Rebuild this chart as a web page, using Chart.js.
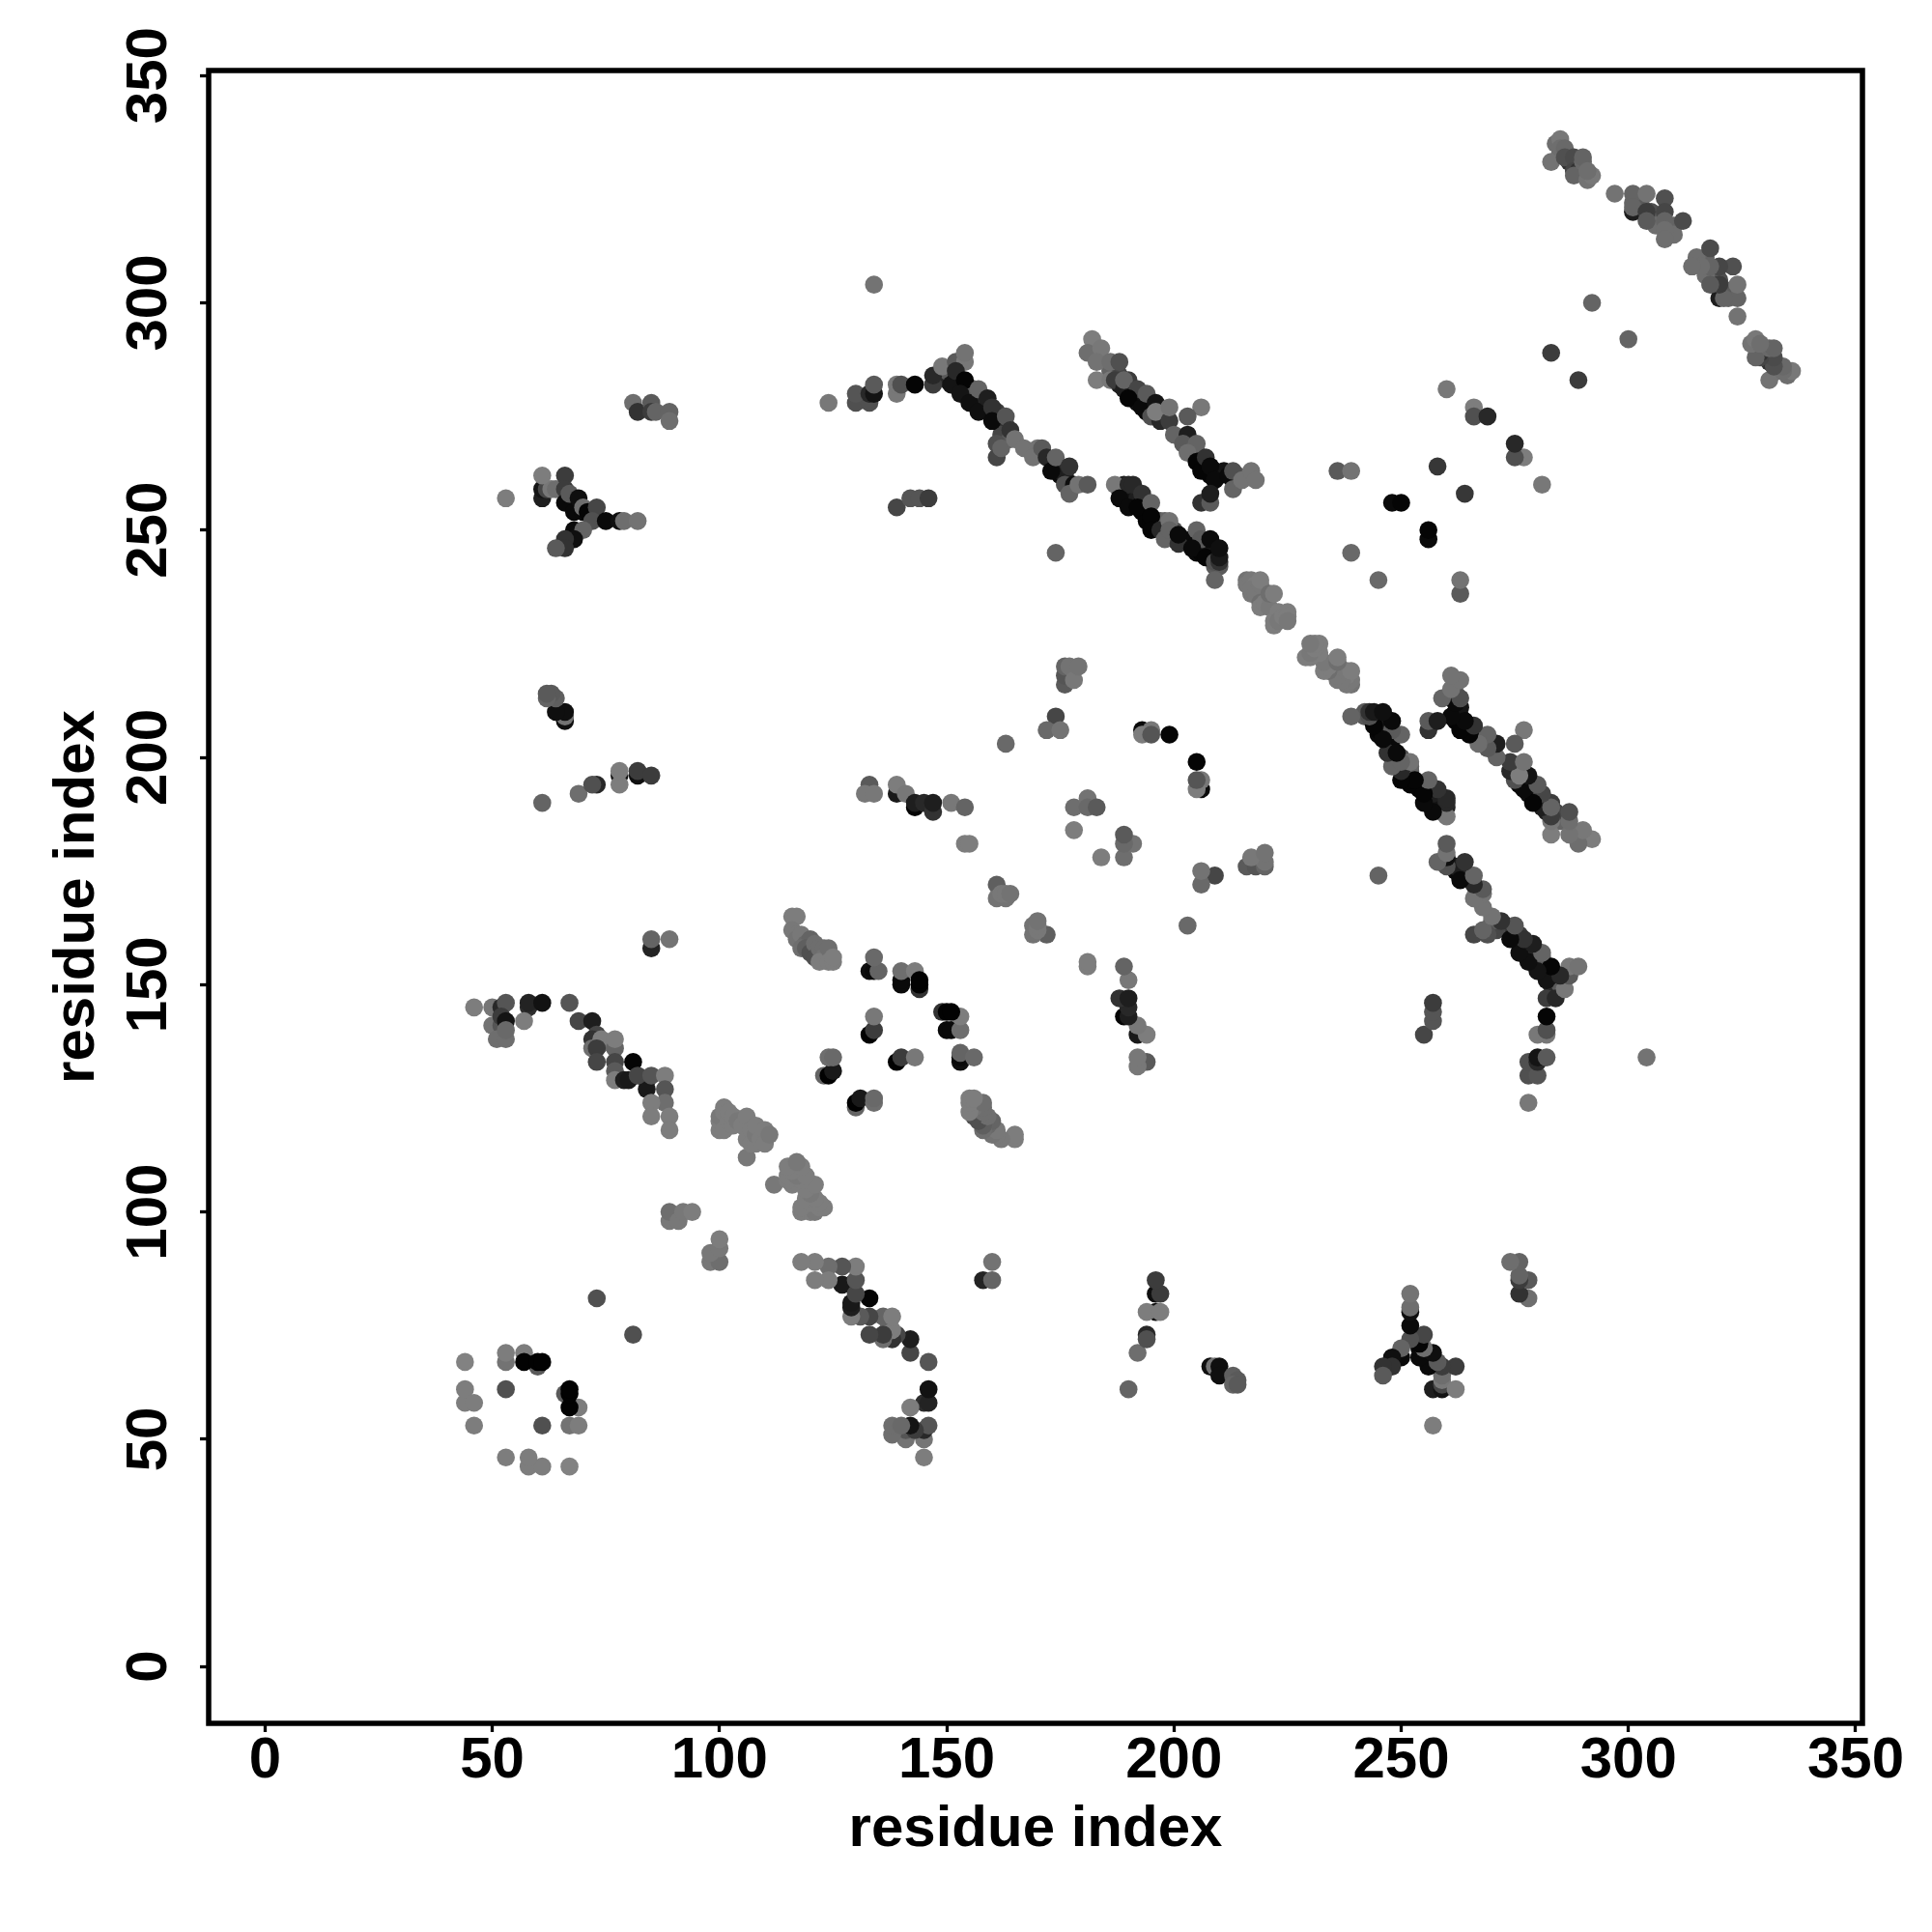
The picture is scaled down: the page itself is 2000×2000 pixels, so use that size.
<!DOCTYPE html>
<html>
<head>
<meta charset="utf-8">
<title>contact map</title>
<script src="https://cdn.jsdelivr.net/npm/chart.js@4"></script>
<style>
  body { margin: 0; background: #fff; }
  canvas { display: block; }
</style>
</head>
<body>
<canvas id="chart" width="2000" height="2000"></canvas>
<script>
// each contact is [residue i, residue j, grey level]
// the map is symmetric, so every pair is drawn at (i,j) and (j,i)
var tickValues = [0, 50, 100, 150, 200, 250, 300, 350];

var ringLow = [[44,58,125],[44,61,125],[44,67,130],[46,53,125],[46,58,125],[53,61,80],[53,67,115],[53,69,125],[57,69,125],[60,66,90],[57,67,2],[60,67,2],[61,67,2],[73,81,80]];
var strandA = [[46,145,125],[50,145,118],[52,145,40],[53,146,85],[58,145,45],[58,146,35],[61,146,18],[67,146,85],[50,141,115],[52,141,85],[52,143,60],[53,142,20],[57,142,125],[51,138,110],[53,138,110],[53,140,105],[69,142,70],[72,142,30],[73,139,70],[72,138,50],[74,137,110],[74,138,125],[72,136,110],[73,136,60],[73,133,70],[77,136,100],[77,138,125],[77,133,70],[77,131,90],[77,129,125],[79,129,30],[80,129,25],[81,133,5],[84,129,5],[84,127,25],[82,130,70],[85,130,85],[88,130,125],[88,127,85],[88,124,110],[85,124,125],[85,121,125],[89,121,125],[89,118,125]];
var patchB = [[89,98,120],[89,100,110],[91,98,120],[92,100,120],[94,100,125]];
var patchC = [[100,118,125],[100,120,125],[100,121,120],[101,118,125],[101,122,125],[101,123,125],[102,120,125],[102,122,125],[103,119,125],[103,121,125],[104,120,120],[105,119,125],[106,112,120],[106,116,125],[106,121,125],[107,118,125],[107,115,125],[108,115,125],[108,117,120],[108,119,125],[109,116,125],[110,118,125],[110,115,125],[111,117,120]];
var patchD = [[116,165,125],[117,165,125],[116,162,120],[117,161,120],[117,160,115],[118,161,120],[119,159,105],[120,160,100],[118,158,110],[119,158,95],[120,157,80],[121,159,110],[121,156,80],[122,158,110],[123,158,110],[123,156,115],[122,155,125],[124,158,110],[124,155,125],[125,155,125],[125,156,125]];
var smallE = [[123,130,100],[124,130,2],[125,131,25],[124,134,110],[125,134,105],[133,139,2],[134,140,60],[134,143,120],[133,153,15],[134,153,10],[135,153,100],[134,156,105],[140,150,10],[140,151,10],[140,153,110],[143,153,125],[144,149,50],[144,150,2],[144,151,2],[85,158,35],[85,160,100],[89,160,115]];
var strandF = [[133,194,90],[132,192,120],[134,192,120],[139,192,25],[139,194,125],[141,192,120],[143,189,5],[143,190,30],[145,190,40],[147,188,50],[147,190,30],[151,190,120],[154,189,100]];
var patchG = [[154,181,125],[155,181,125],[161,172,95],[161,169,115],[163,169,115],[162,170,120],[163,170,120],[164,170,115]];
var patchH = [[176,216,90],[176,218,85],[176,220,100],[177,220,115],[178,217,120],[179,220,115],[174,209,70],[172,206,105],[175,206,115],[163,203,105],[193,206,10],[195,206,120],[193,205,125],[195,205,85],[199,205,5],[178,189,110],[181,191,115],[181,189,105],[183,189,90],[178,184,125]];
var strandI = [[61,190,100],[69,192,110],[73,194,40],[72,194,80],[78,196,15],[78,194,125],[78,197,125],[82,196,15],[82,197,60],[85,196,60],[66,208,15],[66,209,115],[66,210,15],[64,210,15],[64,213,95],[63,214,90],[62,213,100],[62,214,90]];
var forkJ = [[53,257,125],[61,257,30],[61,259,20],[62,259,70],[63,259,120],[61,262,125],[64,259,110],[66,262,60],[66,259,60],[66,256,10],[67,258,90],[68,254,10],[69,257,15],[70,254,10],[70,255,110],[71,254,5],[73,255,70],[72,252,80],[68,250,10],[70,250,100],[68,248,15],[66,248,50],[66,246,50],[64,246,90],[75,252,10],[78,252,15],[79,252,110],[82,252,115]];
var patchK = [[81,278,110],[82,276,50],[85,278,90],[85,276,60],[86,276,100],[89,276,100],[89,274,110]];
var strandL = [[150,283,40],[150,285,90],[152,283,15],[153,282,20],[155,280,10],[156,279,15],[156,281,90],[157,278,30],[158,277,20],[158,279,40],[159,276,15],[160,275,30],[161,276,60],[162,274,20],[163,273,50],[163,271,60],[162,271,70],[164,270,90],[174,264,15],[175,262,10],[175,264,40],[176,262,30],[124,278,120],[130,278,80],[133,278,80],[130,280,85],[133,280,40],[134,280,20],[134,282,90],[139,280,120],[139,282,120],[140,282,80],[143,282,5],[147,282,60],[147,284,40],[149,286,120],[152,287,90],[154,287,120],[154,289,115],[151,282,20],[152,285,40],[154,283,5],[153,280,20],[155,278,15],[157,281,100],[157,276,15],[159,279,30],[160,277,50],[160,274,10],[163,275,85],[164,272,50],[161,269,80],[161,266,70],[162,268,100],[165,270,115],[167,268,115],[170,268,115],[169,266,115],[171,268,90],[172,266,40],[173,263,10],[174,266,100],[177,264,50],[176,260,80],[178,260,15],[177,258,100],[179,260,115],[181,260,90]];
var strandM = [[186,285,100],[188,284,70],[188,282,30],[190,281,25],[190,283,60],[191,280,15],[192,279,10],[192,278,15],[194,278,40],[194,276,5],[195,277,30],[196,275,10],[198,275,70],[204,268,90],[205,267,50],[206,265,30],[206,266,10],[207,263,5],[207,264,10],[208,262,5],[209,263,15],[210,262,5],[211,263,20],[213,261,60],[214,262,90],[182,292,125],[181,289,110],[184,290,120],[183,287,115],[186,287,110],[188,287,80],[183,283,125],[186,283,120],[187,283,60],[189,281,30],[189,283,100],[192,281,70],[190,279,5],[193,277,10],[194,280,90],[196,278,20],[195,275,80],[197,274,40],[196,276,125],[199,274,60],[199,277,115],[206,277,120],[203,275,90],[200,271,100],[203,271,30],[202,269,90],[205,269,100],[203,267,110],[205,265,5],[206,263,5],[207,266,50],[208,264,10],[209,261,10],[212,262,10],[213,259,100],[213,263,80],[215,261,115],[217,263,115],[218,261,115],[206,256,50],[208,256,90],[208,258,30],[139,255,70],[142,257,85],[144,257,85],[146,257,60]];
var strandN = [[188,259,10],[189,260,30],[189,258,10],[190,258,15],[191,257,10],[191,258,20],[192,257,30],[193,256,10],[193,254,5],[194,254,5],[194,252,5],[195,252,5],[196,252,5],[196,251,5],[198,250,90],[197,252,90],[198,252,100],[200,250,80],[200,248,60],[202,248,80],[204,248,10],[205,247,10],[205,245,10],[206,246,30],[206,245,5],[207,246,15],[208,246,20],[208,244,5],[209,245,25],[209,244,15],[209,242,90],[210,242,90],[187,260,120],[190,260,40],[191,260,40],[188,257,10],[193,258,50],[190,255,10],[192,255,5],[195,256,100],[195,253,5],[195,250,5],[197,250,40],[198,248,100],[199,252,115],[199,250,100],[201,247,50],[201,249,10],[205,250,100],[206,248,90],[204,246,10],[208,248,10],[207,244,5],[209,243,80],[210,243,50],[210,244,25],[210,246,15],[209,239,100],[174,245,100]];
var patchO = [[216,239,115],[216,238,120],[217,239,120],[218,238,125],[217,236,120],[217,237,120],[218,236,120],[219,238,120],[219,239,125],[219,234,110],[219,233,125],[220,234,125],[221,233,120],[221,236,110],[222,236,125],[222,230,125],[222,229,125],[223,232,125],[223,230,120],[224,231,125],[225,232,125],[225,231,125],[225,230,120]];
var loneP = [[236,263,90],[239,263,115],[239,245,105],[248,256,10],[250,256,5],[258,264,55],[260,281,120],[266,277,125],[266,275,80],[269,275,40],[283,289,60],[292,300,100],[134,304,115]];
var tailQ = [[287,332,70],[287,331,50],[288,331,60],[289,331,90],[289,330,60],[290,330,80],[284,335,110],[285,333,110],[286,333,90],[283,331,115],[285,336,120],[285,334,110],[286,334,105],[286,332,80],[288,332,75],[288,329,70],[290,329,70],[289,329,50],[288,328,100],[290,331,105],[290,332,100],[291,327,115],[292,328,120],[291,329,110]];
var tailR = [[301,322,100],[302,321,100],[303,320,80],[303,321,90],[305,320,80],[305,318,60],[306,319,80],[307,317,90],[307,319,90],[309,316,100],[309,315,110],[310,317,100],[310,315,110],[306,317,110],[297,324,115],[301,324,100],[304,324,115],[301,320,30],[301,321,100],[304,320,60],[304,318,90],[308,323,80],[308,320,70],[308,318,100],[312,318,75],[308,316,110],[308,314,110]];

var allContacts = [].concat(ringLow, strandA, patchB, patchC, patchD, smallE, strandF, patchG, patchH,
    strandI, forkJ, patchK, strandL, strandM, strandN, patchO, loneP, tailQ, tailR);

var points = [];
allContacts.forEach(function(c){
    points.push({x: c[0], y: c[1], grey: c[2]});
    points.push({x: c[1], y: c[0], grey: c[2]});
});

var axisFont = {family: '"Liberation Sans"', size: 60, weight: 'bold'};

// frame around the plot, the axis borders only give two sides
var framePlugin = {
    id: 'frame',
    afterDraw: function(chart){
        var a = chart.chartArea, ctx = chart.ctx;
        ctx.save();
        ctx.strokeStyle = '#000';
        ctx.lineWidth = 5.5;
        ctx.strokeRect(a.left, a.top, a.right - a.left, a.bottom - a.top);
        ctx.restore();
    }
};

function useTicks(scale){
    scale.ticks = tickValues.map(function(v){ return {value: v}; });
}

var context = document.getElementById('chart').getContext('2d');
var myChart = new Chart(context, {
    type: 'scatter',
    data: {
        datasets: [{
            data: points,
            pointRadius: 9.3,
            pointHoverRadius: 9.3,
            borderWidth: 0,
            backgroundColor: function(c){
                var g = c.raw ? c.raw.grey : 0;
                return 'rgb(' + g + ',' + g + ',' + g + ')';
            }
        }]
    },
    plugins: [framePlugin],
    options: {
        responsive: false,
        animation: false,
        layout: {padding: {top: 73, right: 72, left: 0, bottom: 0}},
        plugins: {legend: {display: false}, tooltip: {enabled: false}},
        scales: {
            x: {
                type: 'linear',
                min: -12.4,
                max: 351.5,
                afterBuildTicks: useTicks,
                afterFit: function(scale){ scale.height = 216; },
                grid: {drawOnChartArea: false, tickLength: 9, tickWidth: 3.3, tickColor: '#000'},
                border: {display: false},
                ticks: {color: '#000', font: axisFont, padding: -6, maxRotation: 0, minRotation: 0, autoSkip: false},
                title: {display: true, text: 'residue index', color: '#000', font: axisFont, padding: {top: 0, bottom: 70}}
            },
            y: {
                type: 'linear',
                min: -12.5,
                max: 351.1,
                afterBuildTicks: useTicks,
                afterFit: function(scale){ scale.width = 216; },
                grid: {drawOnChartArea: false, tickLength: 9, tickWidth: 3.3, tickColor: '#000'},
                border: {display: false},
                ticks: {color: '#000', font: axisFont, padding: 1, minRotation: 90, maxRotation: 90, crossAlign: 'center', autoSkip: false},
                title: {display: true, text: 'residue index', color: '#000', font: axisFont, padding: {top: 44, bottom: 0}}
            }
        }
    }
});
</script>
</body>
</html>
